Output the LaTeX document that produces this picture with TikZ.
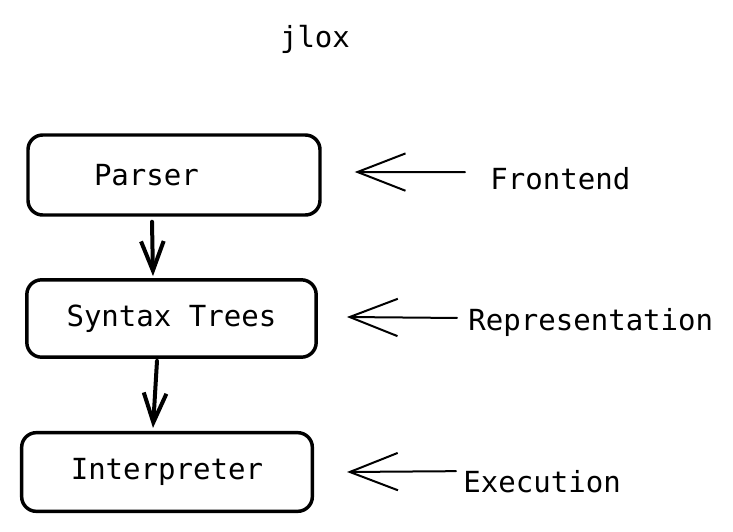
\documentclass[tikz,border=0pt]{standalone}
\usepackage{fontspec}
\setmonofont{DejaVu Sans Mono}
\usepackage{tikz}
\usetikzlibrary{arrows.meta}

\begin{document}
\begin{tikzpicture}[x=0.75pt,y=-0.75pt,
		font=\ttfamily\fontsize{21.8}{26}\selectfont,
		box/.style={draw,line width=2.6pt,rounded corners=11pt,inner sep=0pt},
		side/.style={line width=1.5pt,line cap=round,-{Straight Barb[length=36pt,width=28pt,line width=1.5pt]}},
		down/.style={line width=3pt,line cap=round,-{Straight Barb[length=22pt,width=17pt,line width=3pt]}},
		tag/.style={inner sep=0pt,anchor=base west}]
	% Page frame (pixel units of the reference).
	\useasboundingbox (0,0) rectangle (733,532);
	
	% Title
	\node[inner sep=0pt,anchor=base] (title) at (315,47) {jlox};
	
	% Stages
	\node[box,text width=120pt,inner xsep=49.5pt,minimum height=60pt,align=left] (parser) at (174,175) {Parser};
	\node[box,minimum width=217pt,minimum height=58pt] (syntax) at (171.5,318.5) {Syntax Trees};
	\node[box,minimum width=218pt,minimum height=59pt] (interp) at (167,472) {Interpreter};
	
	% Phase labels
	\node[tag] (frontend) at (490,189) {Frontend};
	\node[tag] (repr) at (468,330) {Representation};
	\node[tag] (exec) at (463,492) {Execution};
	
	% Flow between stages.
	\draw[down] ([shift={(-22,5)}]parser.south) -- ([shift={(-18.5,-2)}]syntax.north);
	\draw[down] ([shift={(-14.5,2)}]syntax.south) -- ([shift={(-14,-3)}]interp.north);
	
	% Phase arrows, pointing back at the stages.
	\draw[side] ([shift={(-25,-6)}]frontend.west) -- ([shift={(33,-3)}]parser.east);
	\draw[side] ([shift={(-11,-4)}]repr.west) -- ([shift={(29,-1.5)}]syntax.east);
	\draw[side] ([shift={(-7,-10)}]exec.west) -- ([shift={(33,0)}]interp.east);
\end{tikzpicture}
\end{document}
